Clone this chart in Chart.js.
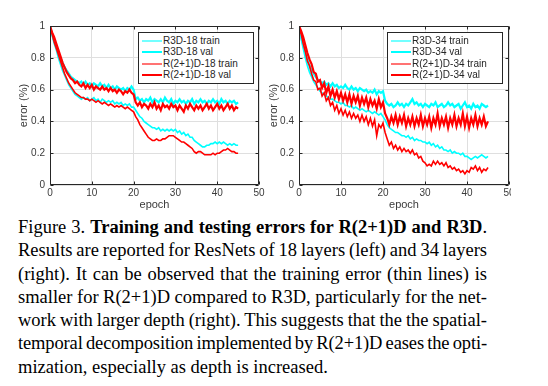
<!DOCTYPE html>
<html>
<head>
<meta charset="utf-8">
<script src="https://cdn.jsdelivr.net/npm/chart.js"></script>
<style>
    body { margin: 0; background: #fff; width: 548px; height: 386px; overflow: hidden; position: relative; }
    canvas { position: absolute; top: 0; }
    #chart18 { left: 0; }
    #chart34 { left: 262px; }
    .legend { position: absolute; top: 32px; width: 116px; height: 52px; box-sizing: border-box;
              border: 1px solid #262626; background: #fff;
              font: 10px "Liberation Sans", Arial, sans-serif; color: #262626; }
    .legend .row { position: absolute; left: 24px; height: 12px; line-height: 12px; white-space: nowrap; }
    .legend .swatch { position: absolute; left: -21px; width: 20px; }
    #caption { position: absolute; left: 18px; top: 216px; width: 469px;
               font: 18.5px/23.3px "Liberation Serif", "Times New Roman", serif; color: #000; }
    #caption .ln { white-space: nowrap; height: 23.3px; }
</style>
</head>
<body>
<canvas id="chart18" width="274" height="215"></canvas>
<canvas id="chart34" width="249" height="215"></canvas>
<div class="legend" id="legend18" style="left:138px"></div>
<div class="legend" id="legend34" style="left:387px"></div>

<div id="caption">
    <div class="ln"><span>Figure 3. <b>Training and testing errors for R(2+1)D and R3D</b>.</span></div>
    <div class="ln"><span>Results are reported for ResNets of 18 layers (left) and 34 layers</span></div>
    <div class="ln"><span>(right). It can be observed that the training error (thin lines) is</span></div>
    <div class="ln"><span>smaller for R(2+1)D compared to R3D, particularly for the net-</span></div>
    <div class="ln"><span>work with larger depth (right). This suggests that the the spatial-</span></div>
    <div class="ln"><span>temporal decomposition implemented by R(2+1)D eases the opti-</span></div>
    <div class="ln"><span>mization, especially as depth is increased.</span></div>
</div>

<script>
// ========== DATA ==========
// one value every half epoch, epoch 0 .. 45
const EPOCH_STEP = 0.5;
const xTicks = [0, 10, 20, 30, 40, 50];
const yTicks = [0, 0.2, 0.4, 0.6, 0.8, 1];

const labels18 = ['R3D-18 train', 'R3D-18 val', 'R(2+1)D-18 train', 'R(2+1)D-18 val'];
const labels34 = ['R3D-34 train', 'R3D-34 val', 'R(2+1)D-34 train', 'R(2+1)D-34 val'];

const r3d18Train = [
    1.00, 0.94, 0.89, 0.85, 0.80, 0.76, 0.72, 0.69, 0.66, 0.63,
    0.61, 0.59, 0.57, 0.56, 0.55, 0.54, 0.55, 0.54, 0.55, 0.53,
    0.54, 0.55, 0.53, 0.54, 0.52, 0.54, 0.53, 0.52, 0.53, 0.52,
    0.53, 0.51, 0.52, 0.51, 0.52, 0.50, 0.51, 0.50, 0.51, 0.49,
    0.49, 0.47, 0.45, 0.43, 0.42, 0.40, 0.39, 0.38, 0.37, 0.36,
    0.36, 0.35, 0.36, 0.34, 0.35, 0.34, 0.35, 0.34, 0.35, 0.34,
    0.35, 0.33, 0.34, 0.32, 0.33, 0.31, 0.32, 0.30, 0.30, 0.28,
    0.27, 0.26, 0.25, 0.24, 0.24, 0.25, 0.25, 0.26, 0.26, 0.27,
    0.26, 0.27, 0.26, 0.27, 0.26, 0.25, 0.26, 0.25, 0.26, 0.25,
    0.25
];
const r3d18Val = [
    1.00, 0.95, 0.91, 0.87, 0.83, 0.80, 0.77, 0.74, 0.72, 0.70,
    0.68, 0.67, 0.66, 0.65, 0.64, 0.65, 0.63, 0.65, 0.63, 0.64,
    0.62, 0.64, 0.63, 0.62, 0.64, 0.62, 0.63, 0.61, 0.63, 0.61,
    0.62, 0.60, 0.62, 0.61, 0.60, 0.61, 0.59, 0.61, 0.60, 0.62,
    0.60, 0.54, 0.55, 0.53, 0.54, 0.52, 0.54, 0.53, 0.55, 0.52,
    0.54, 0.53, 0.52, 0.54, 0.52, 0.55, 0.53, 0.52, 0.54, 0.51,
    0.53, 0.52, 0.54, 0.52, 0.53, 0.51, 0.53, 0.52, 0.54, 0.51,
    0.53, 0.52, 0.54, 0.52, 0.53, 0.51, 0.53, 0.52, 0.54, 0.52,
    0.53, 0.51, 0.54, 0.52, 0.53, 0.51, 0.53, 0.52, 0.53, 0.51,
    0.52
];
const r21d18Train = [
    1.00, 0.95, 0.90, 0.86, 0.82, 0.78, 0.74, 0.70, 0.67, 0.64,
    0.62, 0.60, 0.58, 0.57, 0.56, 0.55, 0.55, 0.54, 0.54, 0.53,
    0.54, 0.53, 0.52, 0.53, 0.52, 0.51, 0.52, 0.51, 0.50, 0.51,
    0.50, 0.49, 0.50, 0.49, 0.50, 0.49, 0.48, 0.49, 0.48, 0.47,
    0.46, 0.43, 0.41, 0.38, 0.36, 0.34, 0.32, 0.30, 0.29, 0.28,
    0.28, 0.29, 0.28, 0.28, 0.29, 0.29, 0.30, 0.31, 0.31, 0.31,
    0.30, 0.29, 0.28, 0.27, 0.27, 0.26, 0.25, 0.24, 0.23, 0.21,
    0.20, 0.21, 0.21, 0.20, 0.19, 0.19, 0.19, 0.19, 0.20, 0.19,
    0.20, 0.20, 0.21, 0.22, 0.22, 0.23, 0.22, 0.21, 0.21, 0.20,
    0.20
];
const r21d18Val = [
    1.00, 0.96, 0.93, 0.89, 0.85, 0.81, 0.77, 0.74, 0.71, 0.69,
    0.67, 0.66, 0.64, 0.65, 0.63, 0.62, 0.64, 0.61, 0.63, 0.61,
    0.63, 0.60, 0.62, 0.61, 0.60, 0.62, 0.60, 0.61, 0.59, 0.61,
    0.59, 0.60, 0.58, 0.60, 0.59, 0.57, 0.59, 0.58, 0.60, 0.58,
    0.57, 0.52, 0.50, 0.52, 0.49, 0.51, 0.50, 0.48, 0.51, 0.49,
    0.52, 0.48, 0.50, 0.47, 0.51, 0.49, 0.50, 0.48, 0.51, 0.49,
    0.50, 0.47, 0.50, 0.48, 0.46, 0.50, 0.48, 0.51, 0.49, 0.47,
    0.50, 0.48, 0.50, 0.47, 0.49, 0.51, 0.48, 0.50, 0.47, 0.49,
    0.51, 0.48, 0.50, 0.47, 0.49, 0.51, 0.48, 0.50, 0.47, 0.49,
    0.48
];

const r3d34Train = [
    1.00, 0.92, 0.86, 0.80, 0.75, 0.71, 0.68, 0.65, 0.63, 0.61,
    0.59, 0.58, 0.57, 0.56, 0.55, 0.54, 0.54, 0.53, 0.52, 0.52,
    0.51, 0.52, 0.50, 0.50, 0.49, 0.50, 0.48, 0.49, 0.48, 0.47,
    0.48, 0.47, 0.46, 0.47, 0.46, 0.45, 0.46, 0.45, 0.44, 0.45,
    0.43, 0.41, 0.38, 0.36, 0.35, 0.34, 0.33, 0.33, 0.32, 0.31,
    0.31, 0.30, 0.31, 0.29, 0.30, 0.28, 0.29, 0.28, 0.28, 0.27,
    0.27, 0.26, 0.27, 0.25, 0.26, 0.24, 0.25, 0.23, 0.24, 0.22,
    0.22, 0.21, 0.22, 0.20, 0.21, 0.20, 0.20, 0.19, 0.20, 0.18,
    0.18, 0.17, 0.16, 0.17, 0.18, 0.17, 0.18, 0.19, 0.18, 0.17,
    0.18
];
const r3d34Val = [
    1.00, 0.93, 0.88, 0.83, 0.79, 0.75, 0.72, 0.70, 0.68, 0.66,
    0.65, 0.64, 0.65, 0.63, 0.64, 0.62, 0.64, 0.62, 0.63, 0.61,
    0.62, 0.61, 0.63, 0.61, 0.60, 0.62, 0.60, 0.61, 0.59, 0.61,
    0.60, 0.59, 0.60, 0.58, 0.59, 0.58, 0.60, 0.57, 0.59, 0.58,
    0.59, 0.53, 0.51, 0.50, 0.51, 0.49, 0.50, 0.52, 0.50, 0.51,
    0.49, 0.51, 0.50, 0.52, 0.54, 0.51, 0.52, 0.50, 0.51, 0.49,
    0.51, 0.50, 0.49, 0.51, 0.50, 0.52, 0.49, 0.50, 0.51, 0.49,
    0.50, 0.52, 0.50, 0.51, 0.49, 0.50, 0.51, 0.48, 0.50, 0.52,
    0.49, 0.50, 0.48, 0.51, 0.49, 0.50, 0.48, 0.51, 0.50, 0.49,
    0.50
];
const r21d34Train = [
    1.00, 0.95, 0.89, 0.84, 0.78, 0.75, 0.70, 0.66, 0.65, 0.60,
    0.61, 0.56, 0.58, 0.53, 0.55, 0.50, 0.52, 0.47, 0.50, 0.45,
    0.48, 0.44, 0.47, 0.43, 0.46, 0.42, 0.45, 0.42, 0.44, 0.40,
    0.44, 0.40, 0.43, 0.38, 0.42, 0.37, 0.41, 0.31, 0.38, 0.36,
    0.39, 0.33, 0.29, 0.25, 0.27, 0.23, 0.25, 0.22, 0.24, 0.21,
    0.23, 0.21, 0.22, 0.20, 0.22, 0.19, 0.20, 0.17, 0.18, 0.15,
    0.14, 0.12, 0.13, 0.12, 0.15, 0.13, 0.15, 0.13, 0.14, 0.12,
    0.14, 0.11, 0.12, 0.10, 0.11, 0.09, 0.10, 0.08, 0.09, 0.07,
    0.09, 0.08, 0.11, 0.10, 0.12, 0.09, 0.11, 0.08, 0.10, 0.09,
    0.11
];
const r21d34Val = [
    1.00, 0.97, 0.93, 0.88, 0.83, 0.79, 0.76, 0.71, 0.70, 0.65,
    0.66, 0.61, 0.64, 0.58, 0.62, 0.56, 0.60, 0.55, 0.59, 0.54,
    0.58, 0.53, 0.57, 0.52, 0.57, 0.51, 0.56, 0.52, 0.56, 0.50,
    0.55, 0.51, 0.55, 0.49, 0.54, 0.50, 0.53, 0.48, 0.54, 0.49,
    0.52, 0.45, 0.42, 0.38, 0.43, 0.39, 0.44, 0.38, 0.43, 0.39,
    0.44, 0.37, 0.42, 0.38, 0.43, 0.37, 0.42, 0.38, 0.44, 0.37,
    0.42, 0.38, 0.43, 0.36, 0.42, 0.38, 0.45, 0.37, 0.42, 0.38,
    0.43, 0.36, 0.42, 0.38, 0.44, 0.37, 0.42, 0.38, 0.45, 0.37,
    0.43, 0.36, 0.42, 0.38, 0.44, 0.37, 0.42, 0.38, 0.43, 0.37,
    0.40
];

// ========== STYLE ==========
const CYAN = '#00ffff';
const RED = '#ff0000';
const AXIS_COLOR = '#262626';
const GRID_COLOR = '#dfdfdf';
const TEXT_COLOR = '#3a3a3a';
const SANS = '"Liberation Sans", Arial, sans-serif';

// ========== HELPERS ==========
function toPoints(values) {
    return values.map((v, i) => ({ x: i * EPOCH_STEP, y: v }));
}

function makeDatasets(labels, series) {
    const colors = [CYAN, CYAN, RED, RED];
    return series.map((values, i) => ({
        label: labels[i],
        data: toPoints(values),
        borderColor: colors[i],
        borderWidth: i % 2 === 0 ? 1.6 : 2.2,
        pointRadius: 0,
        tension: 0,
        order: 4 - i
    }));
}

// MATLAB style box round the plot with inward tick marks
const boxPlugin = {
    id: 'box',
    afterDatasetsDraw(chart) {
        const { ctx, chartArea: a, scales: { x, y } } = chart;
        const l = Math.round(a.left) + 0.5, r = Math.round(a.right) - 0.5;
        const t = Math.round(a.top) + 0.5, b = Math.round(a.bottom) - 0.5;
        ctx.save();
        ctx.strokeStyle = AXIS_COLOR;
        ctx.lineWidth = 1;
        ctx.beginPath();
        xTicks.forEach(v => {
            const px = Math.round(x.getPixelForValue(v)) + 0.5;
            ctx.moveTo(px, b); ctx.lineTo(px, b - 3);
            ctx.moveTo(px, t); ctx.lineTo(px, t + 3);
        });
        yTicks.forEach(v => {
            const py = Math.round(y.getPixelForValue(v)) + 0.5;
            ctx.moveTo(l, py); ctx.lineTo(l + 3, py);
            ctx.moveTo(r, py); ctx.lineTo(r - 3, py);
        });
        ctx.rect(l, t, r - l, b - t);
        ctx.stroke();
        ctx.restore();
    }
};

function makeOptions(yWidth, padRight, titleOffset) {
    const tickFont = { family: SANS, size: 10 };
    const titleFont = { family: SANS, size: 11 };
    return {
        responsive: false,
        animation: false,
        events: [],
        layout: { padding: { top: 26, right: padRight, left: 0, bottom: 0 } },
        plugins: { legend: { display: false }, tooltip: { enabled: false } },
        scales: {
            x: {
                type: 'linear', min: 0, max: 50,
                ticks: { stepSize: 10, padding: 2, color: TEXT_COLOR, font: tickFont, maxRotation: 0 },
                grid: { color: GRID_COLOR, drawTicks: false },
                border: { display: false },
                title: { display: true, text: 'epoch', color: TEXT_COLOR, font: titleFont, padding: { top: 0, bottom: 3.5 } },
                afterFit(s) { s.height = 30; s.paddingLeft = 0; s.paddingRight = 0; }
            },
            y: {
                min: 0, max: 1,
                ticks: {
                    stepSize: 0.2, padding: 5, color: TEXT_COLOR, font: tickFont,
                    callback: v => String(Number(v.toFixed(1)))
                },
                grid: { color: GRID_COLOR, drawTicks: false },
                border: { display: false },
                title: { display: true, text: 'error (%)', color: TEXT_COLOR, font: titleFont, padding: { top: titleOffset, bottom: 0 } },
                afterFit(s) { s.width = yWidth; }
            }
        }
    };
}

function buildLegend(id, labels) {
    const box = document.getElementById(id);
    const colors = [CYAN, CYAN, RED, RED];
    labels.forEach((label, i) => {
        const row = document.createElement('div');
        row.className = 'row';
        row.style.top = (1.7 + i * 11.5) + 'px';
        row.textContent = label;
        const sw = document.createElement('span');
        sw.className = 'swatch';
        const train = i % 2 === 0;
        sw.style.top = (train ? 5 : 5.25) + 'px';
        sw.style.height = (train ? 2 : 1.5) + 'px';
        sw.style.background = colors[i];
        sw.style.opacity = train ? 0.55 : 1;
        row.appendChild(sw);
        box.appendChild(row);
    });
}

// ========== CHARTS ==========
new Chart(document.getElementById('chart18'), {
    type: 'line',
    data: { datasets: makeDatasets(labels18, [r3d18Train, r3d18Val, r21d18Train, r21d18Val]) },
    options: makeOptions(50, 15, 17.4),
    plugins: [boxPlugin]
});

new Chart(document.getElementById('chart34'), {
    type: 'line',
    data: { datasets: makeDatasets(labels34, [r3d34Train, r3d34Val, r21d34Train, r21d34Val]) },
    options: makeOptions(37, 2, 5.4),
    plugins: [boxPlugin]
});

buildLegend('legend18', labels18);
buildLegend('legend34', labels34);

// ========== CAPTION (justified lines) ==========
const TEXT_WIDTH = 469;
const MIN_SPACE = -1.2;
const lines = document.querySelectorAll('#caption .ln');
lines.forEach((ln, i) => {
    if (i === lines.length - 1) return;
    const span = ln.firstElementChild;
    const text = span.textContent;
    const w = span.getBoundingClientRect().width;
    const gaps = (text.match(/ /g) || []).length;
    let extra = (TEXT_WIDTH - w) / gaps;
    if (extra < MIN_SPACE) {
        // too long: keep spaces readable and tighten letters instead
        const rest = TEXT_WIDTH - w - MIN_SPACE * gaps;
        span.style.letterSpacing = (rest / text.length) + 'px';
        extra = MIN_SPACE;
    }
    span.style.wordSpacing = extra + 'px';
});
</script>
</body>
</html>
